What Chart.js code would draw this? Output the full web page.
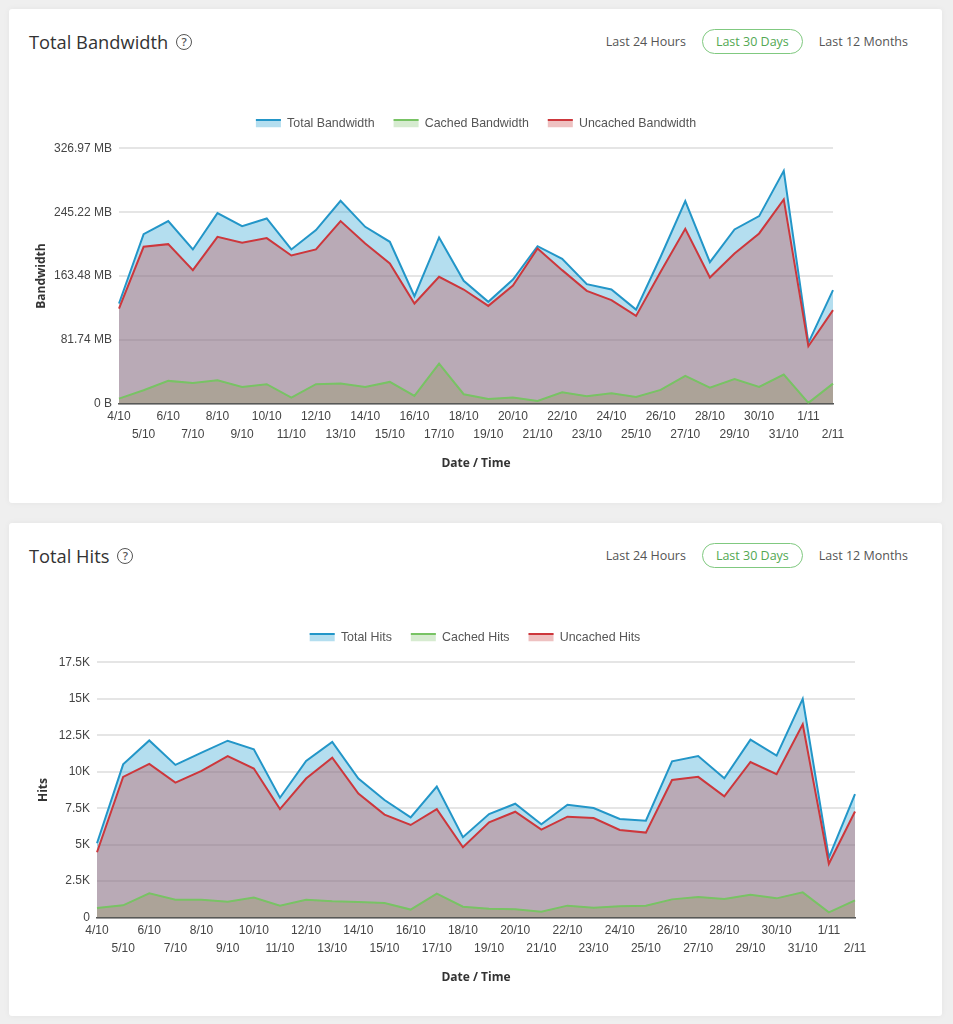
<!DOCTYPE html>
<html>
<head>
<meta charset="utf-8">
<title>Total Bandwidth / Total Hits</title>
<script src="https://cdn.jsdelivr.net/npm/chart.js@4.4.1/dist/chart.umd.min.js"></script>
<style>
  html, body { margin: 0; padding: 0; background: #efefef; }
  body { width: 953px; height: 1024px; position: relative; overflow: hidden; font-family: "Open Sans", sans-serif; }
  .card { position: absolute; left: 9px; width: 933px; background: #fff; border-radius: 3px; box-shadow: 0 0 6px rgba(0,0,0,0.05); }
  #card1 { top: 9px; height: 494px; }
  #card2 { top: 523px; height: 493px; }
  .title { position: absolute; left: 20px; top: 20px; height: 26px; line-height: 26px; font-size: 18.3px; color: #333; display: flex; align-items: center; }
  .help { display: inline-block; width: 14px; height: 14px; border: 1.6px solid #555; border-radius: 50%; font-size: 11.5px; line-height: 14px; text-align: center; color: #555; margin-left: 8px; font-weight: 600; }
  .range { position: absolute; right: 20px; top: 20px; display: flex; }
  .range span { display: inline-block; height: 23px; line-height: 23px; padding: 0 13px; border: 1px solid transparent; border-radius: 13px; font-size: 12.5px; color: #555; margin-left: 2px; }
  .range span.on { border-color: #80c980; color: #52a852; }
  .box { position: absolute; top: 89px; height: 377px; }
  #card1 .box { left: 21px; width: 892px; }
  #card2 .box { left: 23px; width: 886px; }
</style>
</head>
<body>
<div class="card" id="card1">
  <div class="title">Total Bandwidth<span class="help">?</span></div>
  <div class="range"><span>Last 24 Hours</span><span class="on">Last 30 Days</span><span>Last 12 Months</span></div>
  <div class="box"><canvas id="bandwidth"></canvas></div>
</div>
<div class="card" id="card2">
  <div class="title">Total Hits<span class="help">?</span></div>
  <div class="range"><span>Last 24 Hours</span><span class="on">Last 30 Days</span><span>Last 12 Months</span></div>
  <div class="box"><canvas id="hits"></canvas></div>
</div>
<script>
// dias (4/10 .. 2/11)
const days = ['4/10', '5/10', '6/10', '7/10', '8/10', '9/10', '10/10', '11/10', '12/10', '13/10',
  '14/10', '15/10', '16/10', '17/10', '18/10', '19/10', '20/10', '21/10', '22/10', '23/10',
  '24/10', '25/10', '26/10', '27/10', '28/10', '29/10', '30/10', '31/10', '1/11', '2/11'];

// ancho de banda en MB
const bwTotal = [128.2, 217.1, 233.8, 197.5, 244.0, 227.4, 237.2, 197.5, 222.3, 259.9,
  226.5, 207.3, 137.6, 212.9, 157.3, 130.4, 159.0, 201.7, 185.5, 153.0,
  146.2, 120.5, 188.1, 259.4, 181.2, 223.1, 240.2, 298.3, 77.8, 145.3];
const bwCached = [6.4, 17.1, 29.1, 26.5, 29.9, 21.4, 24.8, 7.7, 24.8, 25.6,
  21.4, 27.8, 9.8, 51.3, 12.0, 6.0, 7.7, 3.4, 14.5, 9.4,
  13.3, 8.5, 17.5, 35.5, 20.5, 31.6, 21.4, 37.2, 0.9, 25.6];
const bwUncached = [121.8, 200.9, 204.3, 171.0, 213.7, 206.0, 212.0, 189.8, 197.5, 233.8,
  205.2, 179.5, 128.2, 162.4, 146.2, 125.2, 151.3, 198.8, 171.0, 144.5,
  132.5, 112.4, 168.8, 224.0, 161.6, 192.3, 218.0, 261.6, 73.5, 119.7];
const bwTicks = [0, 81.74, 163.48, 245.22, 326.97];
const bwTickLabels = ['0 B', '81.74 MB', '163.48 MB', '245.22 MB', '326.97 MB'];

// hits
const hitsTotal = [5100, 10510, 12150, 10470, 11310, 12130, 11540, 8220, 10740, 12040,
  9540, 8060, 6870, 8990, 5510, 7100, 7810, 6400, 7740, 7510,
  6760, 6650, 10720, 11080, 9560, 12200, 11110, 15000, 4120, 8470];
const hitsCached = [660, 840, 1660, 1230, 1230, 1090, 1370, 820, 1230, 1120,
  1070, 1000, 550, 1640, 750, 610, 570, 410, 820, 680,
  770, 820, 1250, 1410, 1270, 1570, 1320, 1730, 360, 1180];
const hitsUncached = [4480, 9650, 10540, 9260, 10060, 11080, 10220, 7440, 9540, 10970,
  8510, 7060, 6350, 7440, 4820, 6530, 7260, 6030, 6920, 6830,
  6010, 5830, 9440, 9650, 8310, 10670, 9830, 13250, 3690, 7280];
const hitsTicks = [0, 2500, 5000, 7500, 10000, 12500, 15000, 17500];
const hitsTickLabels = ['0', '2.5K', '5K', '7.5K', '10K', '12.5K', '15K', '17.5K'];

const BLUE = 'rgb(35,150,200)';
const GREEN = 'rgb(120,195,100)';
const RED = 'rgb(205,55,60)';

// linea superior en la caja de la leyenda + espacio extra bajo la leyenda
const legendLine = {
  id: 'legendLine',
  beforeInit(chart) {
    const fit = chart.legend.fit;
    chart.legend.fit = function () {
      fit.call(this);
      this.height += 9;
    };
  },
  afterDraw(chart) {
    const lg = chart.legend;
    const ctx = chart.ctx;
    lg.legendHitBoxes.forEach((hb, i) => {
      const item = lg.legendItems[i];
      ctx.save();
      ctx.fillStyle = item.strokeStyle;
      ctx.fillRect(hb.left, hb.top + 2, 25, 2);
      ctx.restore();
    });
  }
};

function makeChart(id, names, series, yTicks, yLabels, yTitle, yWidth, rightWidth) {
  const colors = [BLUE, GREEN, RED];
  const fills = ['rgba(40,160,210,0.35)', 'rgba(120,190,100,0.3)', 'rgba(200,50,50,0.3)'];
  const orders = [3, 2, 1];
  const tickFont = { family: '"Liberation Sans", Arial, sans-serif', size: 12, lineHeight: 1.5 };
  const titleFont = { family: '"Open Sans", sans-serif', size: 12, weight: 'bold', lineHeight: 1.2 };

  return new Chart(document.getElementById(id), {
    type: 'line',
    data: {
      labels: days,
      datasets: series.map((s, i) => ({
        label: names[i],
        data: s,
        borderColor: colors[i],
        backgroundColor: fills[i],
        borderWidth: 2,
        pointRadius: 0,
        tension: 0,
        fill: 'origin',
        order: orders[i]
      }))
    },
    options: {
      responsive: true,
      maintainAspectRatio: false,
      animation: false,
      layout: { padding: 0 },
      plugins: {
        filler: { drawTime: 'beforeDatasetsDraw' },
        tooltip: { enabled: false },
        legend: {
          position: 'top',
          labels: {
            boxWidth: 25,
            boxHeight: 8,
            padding: 19,
            color: '#555',
            font: { family: '"Liberation Sans", Arial, sans-serif', size: 12.4 },
            sort: (a, b) => a.datasetIndex - b.datasetIndex,
            generateLabels(chart) {
              const items = Chart.defaults.plugins.legend.labels.generateLabels(chart);
              items.forEach((it) => { it.lineWidth = 0; });
              return items;
            }
          }
        }
      },
      scales: {
        x: {
          grid: { display: false, drawTicks: false },
          border: { display: true, color: '#555', width: 1.5 },
          ticks: {
            autoSkip: false,
            maxRotation: 0,
            minRotation: 0,
            padding: 4,
            color: '#444',
            font: tickFont,
            callback: function (value, index) {
              const l = this.getLabelForValue(value);
              return index % 2 ? ['', l] : [l, ''];
            }
          },
          title: { display: true, text: 'Date / Time', color: '#333', font: titleFont, padding: { top: 9, bottom: 4 } }
        },
        y: {
          min: yTicks[0],
          max: yTicks[yTicks.length - 1],
          afterBuildTicks: (scale) => { scale.ticks = yTicks.map((v) => ({ value: v })); },
          afterFit: (scale) => { scale.width = yWidth; },
          grid: { color: 'rgba(0,0,0,0.1)', lineWidth: 2, drawTicks: false },
          border: { display: false },
          ticks: {
            padding: 7,
            color: '#444',
            font: { family: '"Liberation Sans", Arial, sans-serif', size: 12 },
            callback: (value, index) => yLabels[index]
          },
          title: { display: true, text: yTitle, color: '#333', font: titleFont, padding: { top: 4, bottom: 4 } }
        },
        y2: {
          position: 'right',
          display: true,
          grid: { display: false, drawTicks: false },
          border: { display: false },
          ticks: { display: false },
          afterFit: (scale) => { scale.width = rightWidth; }
        }
      }
    },
    plugins: [legendLine]
  });
}

makeChart('bandwidth', ['Total Bandwidth', 'Cached Bandwidth', 'Uncached Bandwidth'],
  [bwTotal, bwCached, bwUncached], bwTicks, bwTickLabels, 'Bandwidth', 89, 89);
makeChart('hits', ['Total Hits', 'Cached Hits', 'Uncached Hits'],
  [hitsTotal, hitsCached, hitsUncached], hitsTicks, hitsTickLabels, 'Hits', 65, 63);
</script>
</body>
</html>
